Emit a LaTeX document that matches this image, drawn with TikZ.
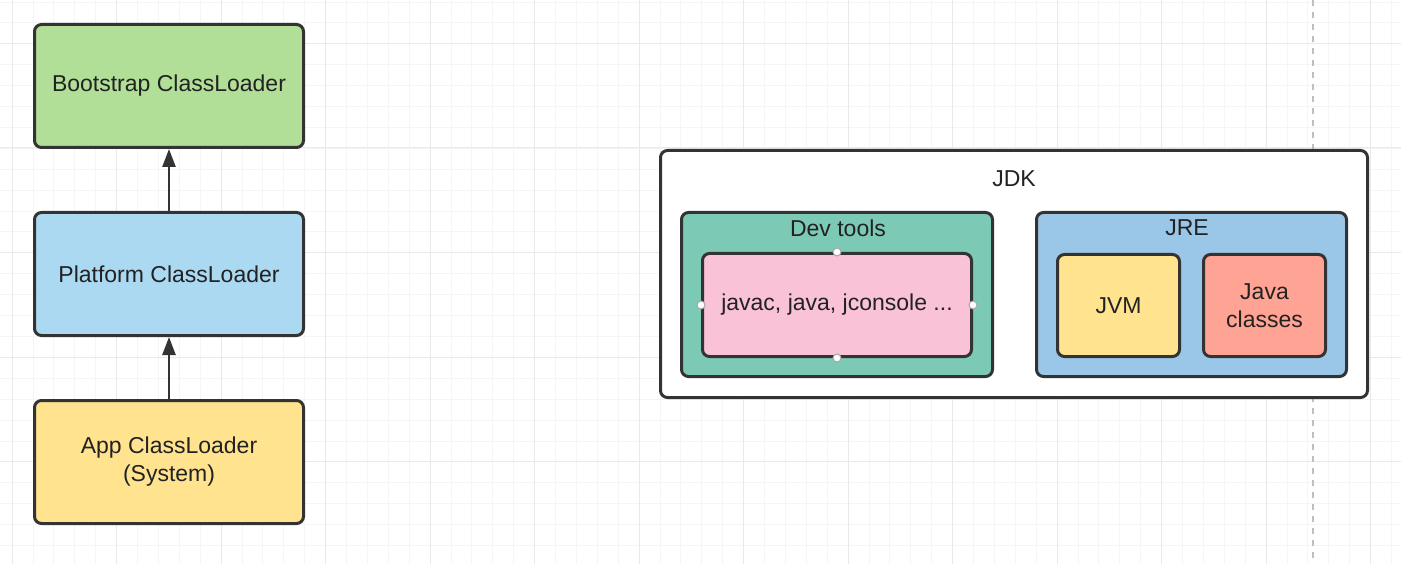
\documentclass[tikz,border=0pt]{standalone}
\usepackage{fontspec}
\setmainfont{Liberation Sans}
\usetikzlibrary{arrows.meta}
\definecolor{bord}{HTML}{333333}
\definecolor{txt}{HTML}{222222}
\definecolor{cgreen}{HTML}{B2DF98}
\definecolor{cblue}{HTML}{ACD9F2}
\definecolor{cyellow}{HTML}{FFE38F}
\definecolor{cteal}{HTML}{7CC9B5}
\definecolor{cpink}{HTML}{F9C2D6}
\definecolor{cjre}{HTML}{9AC7E7}
\definecolor{csalmon}{HTML}{FFA394}
\definecolor{gridminor}{HTML}{F5F5F5}
\definecolor{gridmajor}{HTML}{E9E9E9}
\tikzset{
  box/.style={draw=bord, line width=3pt, rounded corners=7pt, text=txt,
    align=center, inner sep=0pt, font=\fontsize{23}{28}\selectfont},
  lbl/.style={text=txt, inner sep=0pt, font=\fontsize{23}{28}\selectfont},
  conn/.style={draw=bord, line width=2.5pt, -{Triangle[length=18pt,width=13pt]}},
  handle/.style={circle, draw=black!35, fill=white, line width=1pt, minimum size=8pt, inner sep=0pt}
}
\begin{document}
\begin{tikzpicture}[x=1pt,y=-1pt]
\useasboundingbox (0,0) rectangle (1401,564);
\fill[white] (0,0) rectangle (1401,564);
% grid
\foreach \i in {0,...,67} {
  \draw[gridminor, line width=0.8pt] ({12+\i*20.9},0) -- ({12+\i*20.9},564);
}
\foreach \i in {0,...,27} {
  \draw[gridminor, line width=0.8pt] (0,{2+\i*20.9}) -- (1401,{2+\i*20.9});
}
\foreach \i in {0,...,13} {
  \draw[gridmajor, line width=1pt] ({12+\i*104.5},0) -- ({12+\i*104.5},564);
}
\foreach \i in {0,...,5} {
  \draw[gridmajor, line width=1pt] (0,{-61+\i*104.5}) -- (1401,{-61+\i*104.5});
}
\draw[black!25, line width=1.2pt, dash pattern=on 6pt off 6pt] (1313,0) -- (1313,564);

% class loaders
\node[box, fill=cgreen, minimum width=269pt, minimum height=123pt] (boot) at (169,86) {Bootstrap ClassLoader};
\node[box, fill=cblue, minimum width=269pt, minimum height=123pt] (plat) at (169,274) {Platform ClassLoader};
\node[box, fill=cyellow, minimum width=269pt, minimum height=123pt] (app) at (169,462) {App ClassLoader\\(System)};
\draw[conn] (plat.north) -- (boot.south);
\draw[conn] (app.north) -- (plat.south);

% JDK
\node[box, fill=white, minimum width=707pt, minimum height=247pt] (jdk) at (1014,274) {};
\node[lbl] (jdkl) at (1014,179) {JDK};
\node[box, fill=cteal, minimum width=311pt, minimum height=164pt] (dev) at (837,294.5) {};
\node[lbl] (devl) at (838,228) {Dev tools};
\node[box, fill=cpink, minimum width=269pt, minimum height=103pt] (tools) at (837,305) {javac, java, jconsole ...};
\node[handle] (h1) at (tools.north) {};
\node[handle] (h2) at (tools.south) {};
\node[handle] (h3) at (tools.west) {};
\node[handle] (h4) at (tools.east) {};
\node[box, fill=cjre, minimum width=310pt, minimum height=164pt] (jre) at (1191.5,294.5) {};
\node[lbl] (jrel) at (1187,228) {JRE};
\node[box, fill=cyellow, minimum width=122pt, minimum height=102pt] (jvm) at (1118.5,305.5) {JVM};
\node[box, fill=csalmon, minimum width=122pt, minimum height=102pt] (jcls) at (1264.5,305.5) {Java\\classes};
\end{tikzpicture}
\end{document}
